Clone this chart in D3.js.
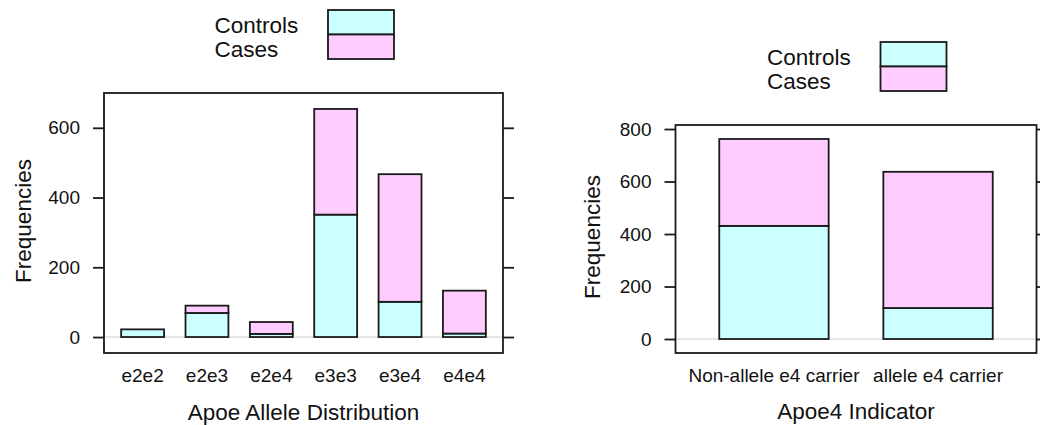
<!DOCTYPE html>
<html>
<head>
<meta charset="utf-8">
<script src="https://cdn.jsdelivr.net/npm/d3@7"></script>
<style>
  body { margin: 0; background: #fff; }
  svg { display: block; font-family: "Liberation Sans", Arial, sans-serif; }
</style>
</head>
<body>
<svg id="chart" width="1040" height="425"></svg>
<script>
// data
const alleles = ["e2e2", "e2e3", "e2e4", "e3e3", "e3e4", "e4e4"];
const alleleControls = [22, 69, 9, 351, 101, 10];
const alleleCases = [0, 21, 34, 303, 366, 123];
const alleleTicks = [0, 200, 400, 600];

const carriers = ["Non-allele e4 carrier", "allele e4 carrier"];
const carrierControls = [431, 118];
const carrierCases = [331, 519];
const carrierTicks = [0, 200, 400, 600, 800];

const groups = ["Controls", "Cases"];
const fills = { Controls: "#CCFFFF", Cases: "#FFCCFF" };

const svg = d3.select("#chart");

function panel(cfg) {
  const table = cfg.cats.map((c, i) => ({ cat: c, Controls: cfg.controls[i], Cases: cfg.cases[i] }));
  const series = d3.stack().keys(groups)(table);
  const maxTot = d3.max(table, d => d.Controls + d.Cases);

  // lattice style: categories at 1..n, limits n +/- 0.6, bars 2/3 wide
  const x = d3.scaleBand()
    .domain(cfg.cats)
    .range([cfg.left, cfg.right])
    .paddingInner(1 / 3)
    .paddingOuter(0.2667);

  const y = d3.scaleLinear()
    .domain([-0.07 * maxTot, 1.07 * maxTot])
    .range([cfg.bottom, cfg.top]);

  const g = svg.append("g");

  // reference line at zero
  g.append("line")
    .attr("x1", cfg.left).attr("x2", cfg.right)
    .attr("y1", y(0)).attr("y2", y(0))
    .attr("stroke", "#e6e6e6").attr("stroke-width", 2);

  g.selectAll("g.layer")
    .data(series)
    .join("g")
    .attr("class", "layer")
    .attr("fill", d => fills[d.key])
    .selectAll("rect")
    .data(d => d)
    .join("rect")
    .attr("x", d => x(d.data.cat))
    .attr("width", x.bandwidth())
    .attr("y", d => y(d[1]))
    .attr("height", d => y(d[0]) - y(d[1]))
    .attr("stroke", "#1a1a1a")
    .attr("stroke-width", 1.8);

  // box
  g.append("rect")
    .attr("x", cfg.left).attr("y", cfg.top)
    .attr("width", cfg.right - cfg.left).attr("height", cfg.bottom - cfg.top)
    .attr("fill", "none").attr("stroke", "#1a1a1a").attr("stroke-width", 1.8);

  const yl = g.append("g")
    .attr("transform", `translate(${cfg.left},0)`)
    .call(d3.axisLeft(y).tickValues(cfg.ticks).tickSize(11).tickPadding(13));
  yl.select(".domain").remove();
  yl.selectAll("line").attr("stroke", "#1a1a1a").attr("stroke-width", 1.8);
  yl.selectAll("text").attr("font-size", 19).attr("fill", "#111")
    .attr("font-family", "Liberation Sans, Arial, sans-serif");

  const yr = g.append("g")
    .attr("transform", `translate(${cfg.right},0)`)
    .call(d3.axisRight(y).tickValues(cfg.ticks).tickSize(11).tickFormat(""));
  yr.select(".domain").remove();
  yr.selectAll("line").attr("stroke", "#1a1a1a").attr("stroke-width", 1.8);

  const xb = g.append("g")
    .attr("transform", `translate(0,${cfg.bottom})`)
    .call(d3.axisBottom(x).tickSize(0).tickPadding(15.5));
  xb.select(".domain").remove();
  xb.selectAll("text").attr("font-size", 19).attr("fill", "#111")
    .attr("font-family", "Liberation Sans, Arial, sans-serif");

  const cx = (cfg.left + cfg.right) / 2;

  g.append("text")
    .attr("x", cx).attr("y", cfg.titleY)
    .attr("text-anchor", "middle")
    .attr("font-size", 22.5).attr("fill", "#111")
    .text(cfg.xTitle);

  g.append("text")
    .attr("transform", `translate(${cfg.yTitleX},${(cfg.top + cfg.bottom) / 2 - 2}) rotate(-90)`)
    .attr("text-anchor", "middle")
    .attr("font-size", 22.5).attr("fill", "#111")
    .text("Frequencies");

  // legend above the panel
  const lt = cfg.top - 83;
  const leg = g.append("g");
  leg.selectAll("text")
    .data(groups)
    .join("text")
    .attr("x", cx - 89)
    .attr("y", (d, i) => lt + 23 + i * 24)
    .attr("font-size", 22.5).attr("fill", "#111")
    .text(d => d);
  leg.selectAll("rect")
    .data(groups)
    .join("rect")
    .attr("x", cx + 24.5)
    .attr("y", (d, i) => lt + i * 24.5)
    .attr("width", 66).attr("height", 24.5)
    .attr("fill", d => fills[d])
    .attr("stroke", "#1a1a1a").attr("stroke-width", 1.8);
}

panel({
  cats: alleles, controls: alleleControls, cases: alleleCases, ticks: alleleTicks,
  left: 104, right: 503, top: 93, bottom: 353,
  xTitle: "Apoe Allele Distribution", titleY: 420, yTitleX: 31
});

panel({
  cats: carriers, controls: carrierControls, cases: carrierCases, ticks: carrierTicks,
  left: 675.5, right: 1036.5, top: 125, bottom: 353,
  xTitle: "Apoe4 Indicator", titleY: 419, yTitleX: 600
});
</script>
</body>
</html>
